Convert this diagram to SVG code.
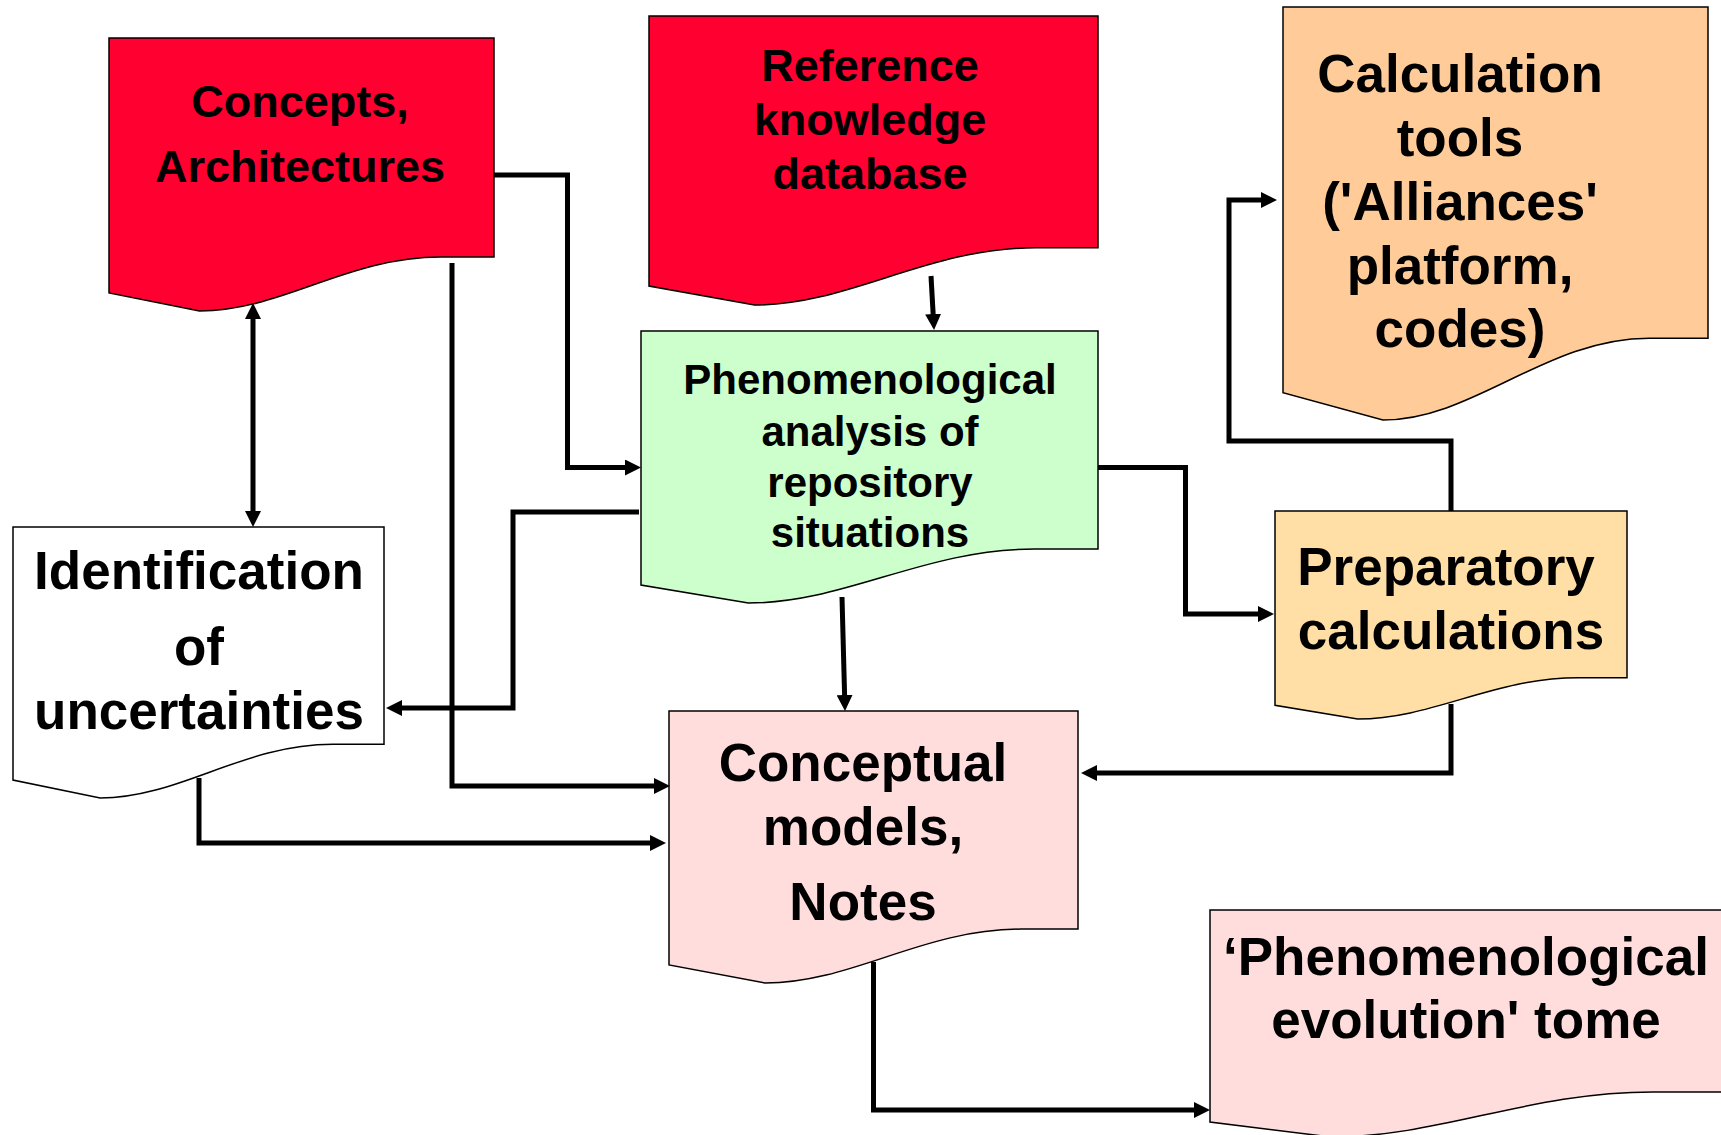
<svg xmlns="http://www.w3.org/2000/svg" width="1721" height="1135" viewBox="0 0 1721 1135">
<style>
.node{stroke:#000;stroke-width:1.5;}
.red{fill:#FF0030;}
.green{fill:#CCFFCC;}
.peach{fill:#FFCC99;}
.sand{fill:#FFDFA5;}
.pink{fill:#FFDDDD;}
.white{fill:#FFFFFF;}
text{font-family:"Liberation Sans",Arial,sans-serif;font-weight:bold;fill:#000;text-anchor:middle;}
.f45{font-size:45px;}
.f42{font-size:42px;}
.f53{font-size:53px;}
.conn{fill:none;stroke:#000;stroke-width:5;stroke-linejoin:miter;marker-end:url(#ah);}
</style>
<defs>
<marker id="ah" markerUnits="userSpaceOnUse" viewBox="0 0 16 16" markerWidth="16" markerHeight="16" refX="8" refY="8" orient="auto-start-reverse">
<path d="M0,0 L16,8 L0,16 Z" fill="#000"/>
</marker>
</defs>
<rect width="1721" height="1135" fill="#FFFFFF"/>

<g id="node-concepts">
<path class="node red" d="M109,38 H494 V257 H442 C347.7,256.4 282.3,311 199.5,311 L109,293 Z"/>
<text class="f45" x="300" y="117">Concepts,</text>
<text class="f45" x="300" y="182">Architectures</text>
</g>

<g id="node-reference">
<path class="node red" d="M649,16 H1098 V247.8 H1037.4 C927.4,247.2 851,305 754.5,305 L649,286 Z"/>
<text class="f45" x="870" y="81">Reference</text>
<text class="f45" x="870" y="135">knowledge</text>
<text class="f45" x="870" y="189">database</text>
</g>

<g id="node-calc-tools">
<path class="node peach" d="M1283,7 H1708 V338.2 H1650.6 C1546.5,337.4 1474.3,420 1382.9,420 L1283,392.7 Z"/>
<text class="f53" x="1460" y="92">Calculation</text>
<text class="f53" x="1460" y="156">tools</text>
<text class="f53" x="1460" y="220">('Alliances'</text>
<text class="f53" x="1460" y="284">platform,</text>
<text class="f53" x="1460" y="347">codes)</text>
</g>

<g id="node-phen-analysis">
<path class="node green" d="M641,331 H1098 V549.1 H1036.3 C924.3,548.6 846.7,603 748.4,603 L641,585 Z"/>
<text class="f42" x="870" y="394">Phenomenological</text>
<text class="f42" x="870" y="446">analysis of</text>
<text class="f42" x="870" y="497">repository</text>
<text class="f42" x="870" y="547">situations</text>
</g>

<g id="node-identification">
<path class="node white" d="M13,527 H384 V744.3 H333.9 C243,743.8 180,798 100.2,798 L13,780.1 Z"/>
<text class="f53" x="199" y="589">Identification</text>
<text class="f53" x="199" y="665">of</text>
<text class="f53" x="199" y="729">uncertainties</text>
</g>

<g id="node-preparatory">
<path class="node sand" d="M1275,511 H1627 V677.8 H1579.5 C1493.2,677.4 1433.4,719 1357.7,719 L1275,705.3 Z"/>
<text class="f53" x="1446" y="585">Preparatory</text>
<text class="f53" x="1451" y="649">calculations</text>
</g>

<g id="node-conceptual-models">
<path class="node pink" d="M669,711 H1078 V929.1 H1022.8 C922.6,928.6 853,983 765.1,983 L669,965 Z"/>
<text class="f53" x="863" y="781">Conceptual</text>
<text class="f53" x="863" y="845">models,</text>
<text class="f53" x="863" y="920">Notes</text>
</g>

<g id="node-tome">
<path class="node pink" d="M1210,910 H1724 V1092 H1654.6 C1528.7,1091.6 1441.3,1137 1330.8,1137 L1210,1122 Z"/>
<text class="f53" x="1466" y="975">‘Phenomenological</text>
<text class="f53" x="1466" y="1038">evolution' tome</text>
</g>

<g id="connectors">
<path class="conn" style="marker-start:url(#ah)" d="M253,311 V519"/>
<path class="conn" d="M494,175 H567.5 V467.5 H633"/>
<path class="conn" d="M452,263 V786 H662"/>
<path class="conn" d="M639,512 H513 V708 H394"/>
<path class="conn" d="M199,778 V843 H658"/>
<path class="conn" d="M931,276 L933.6,322"/>
<path class="conn" d="M842,597 L844.8,703"/>
<path class="conn" d="M1098,467.5 H1185.5 V614 H1266"/>
<path class="conn" d="M1451,511 V441 H1229 V200 H1269"/>
<path class="conn" d="M1451,704 V773 H1089"/>
<path class="conn" d="M873.5,962 V1110 H1202"/>
</g>
</svg>
